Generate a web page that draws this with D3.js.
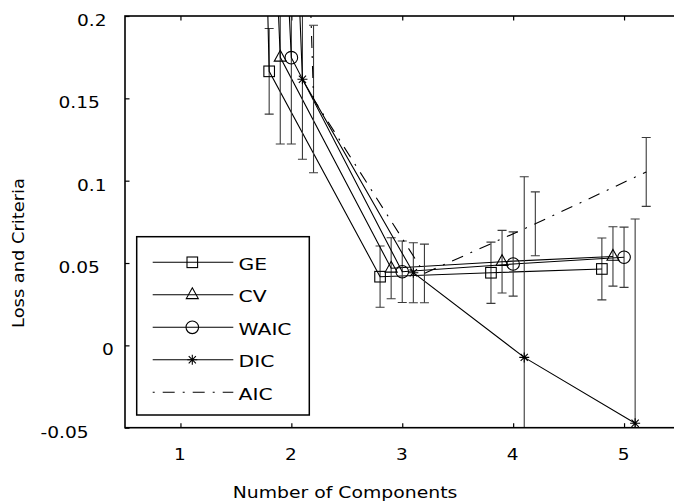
<!DOCTYPE html>
<html>
<head>
<meta charset="utf-8">
<script src="https://cdn.jsdelivr.net/npm/d3@7/dist/d3.min.js"></script>
<style>
  html, body { margin: 0; padding: 0; background: #fff; }
  svg { display: block; }
  text { font-family: "DejaVu Sans", sans-serif; fill: #000; }
</style>
</head>
<body>
<svg id="chart" width="674" height="503"></svg>
<script>
// Number of mixture components on the x axis
const components = [1, 2, 3, 4, 5];

// Generalisation error and information criteria (mean, error-bar half width)
const geValues   = [3.0, 0.1664, 0.0417, 0.0441, 0.0464];
const geErrors   = [0.2, 0.0260, 0.0186, 0.0186, 0.0188];
const cvValues   = [1.8, 0.1749, 0.0468, 0.0508, 0.0540];
const cvErrors   = [0.2, 0.0526, 0.0185, 0.0190, 0.0180];
const waicValues = [1.57, 0.1747, 0.0447, 0.0494, 0.0535];
const waicErrors = [0.2, 0.0524, 0.0187, 0.0195, 0.0183];
const dicValues  = [1.86, 0.1616, 0.0441, -0.0073, -0.0473];
const dicErrors  = [0.2, 0.0486, 0.0182, 0.1097, 0.1240];
const aicValues  = [2.3, 0.1496, 0.0437, 0.0738, 0.1053];
const aicErrors  = [0.2, 0.0448, 0.0178, 0.0194, 0.0209];

const seriesNames = ["GE", "CV", "WAIC", "DIC", "AIC"];
const xTickLabels = ["1", "2", "3", "4", "5"];
const yTickValues = [-0.05, 0, 0.05, 0.1, 0.15, 0.2];
const yTickLabels = ["-0.05", "0", "0.05", "0.1", "0.15", "0.2"];

const xTitle = "Number of Components";
const yTitle = "Loss and Criteria";

// ---- layout ----
const plotLeft = 125, plotTop = 16, plotBottom = 427.7, plotRight = 679.5;
const svg = d3.select("#chart");

const x = d3.scaleLinear().domain([0.5, 5.5]).range([plotLeft, plotRight]);
const y = d3.scaleLinear().domain([-0.05, 0.2]).range([plotBottom, plotTop]);

// widen glyphs horizontally (the terminal font is broad and short)
function widen(sel, factor) {
  sel.each(function () {
    const w = this.getComputedTextLength();
    d3.select(this).attr("textLength", w * factor).attr("lengthAdjust", "spacingAndGlyphs");
  });
}

// the terminal right-justifies tick labels from an estimated width:
// digits and minus are counted wide, the decimal point narrow
function estimatedWidth(label) {
  let w = 0;
  for (const ch of label) w += ch === "." ? 6.5 : (ch === "-" ? 18 : 18.5);
  return w;
}

// each series is nudged sideways so the error bars do not overlap
const shift = { GE: -0.2, CV: -0.1, WAIC: 0, DIC: 0.1, AIC: 0.2 };
const marker = { GE: "square", CV: "triangle", WAIC: "circle", DIC: "star", AIC: "none" };
const valuesOf = { GE: geValues, CV: cvValues, WAIC: waicValues, DIC: dicValues, AIC: aicValues };
const errorsOf = { GE: geErrors, CV: cvErrors, WAIC: waicErrors, DIC: dicErrors, AIC: aicErrors };

const series = seriesNames.map(name => ({
  name,
  points: components.map((c, i) => ({
    c: c + shift[name],
    v: valuesOf[name][i],
    e: errorsOf[name][i]
  }))
}));

svg.append("defs").append("clipPath").attr("id", "plotClip")
  .append("rect")
  .attr("x", plotLeft).attr("y", plotTop)
  .attr("width", plotRight - plotLeft).attr("height", plotBottom - plotTop);

// ---- axes (ticks point inward, mirrored on top) ----
const yAxis = d3.axisLeft(y)
  .tickValues(yTickValues)
  .tickFormat((d, i) => yTickLabels[i])
  .tickSizeInner(-4.5).tickSizeOuter(0);
const gy = svg.append("g").attr("transform", `translate(${plotLeft},0)`).call(yAxis);
gy.select(".domain").remove();
gy.selectAll(".tick line").attr("stroke", "#000").attr("stroke-width", 1.2);
gy.selectAll(".tick text")
  .attr("font-family", "DejaVu Sans, sans-serif").attr("font-size", 16)
  .attr("text-anchor", "start")
  .attr("x", (d, i) => -4.5 - estimatedWidth(yTickLabels[i]))
  .attr("y", 4.5).attr("fill", "#000")
  .call(widen, 1.16);

const xAxis = d3.axisBottom(x)
  .tickValues(components)
  .tickFormat((d, i) => xTickLabels[i])
  .tickSizeInner(-4.5).tickSizeOuter(0).tickPadding(21);
const gx = svg.append("g").attr("transform", `translate(0,${plotBottom})`).call(xAxis);
gx.select(".domain").remove();
gx.selectAll(".tick line").attr("stroke", "#000").attr("stroke-width", 1.2);
gx.selectAll(".tick text")
  .attr("font-family", "DejaVu Sans, sans-serif").attr("font-size", 16.5).attr("fill", "#000")
  .attr("x", -1)
  .call(widen, 1.12);

const xTop = d3.axisTop(x).tickValues(components).tickFormat("")
  .tickSizeInner(-4.5).tickSizeOuter(0);
const gt = svg.append("g").attr("transform", `translate(0,${plotTop})`).call(xTop);
gt.select(".domain").remove();
gt.selectAll(".tick line").attr("stroke", "#000").attr("stroke-width", 1.2);

// ---- data ----
const plot = svg.append("g").attr("clip-path", "url(#plotClip)");

const line = d3.line().x(d => x(d.c)).y(d => y(d.v));
const capHalf = 4.5;

function drawMarker(g, type, cx, cy) {
  const st = sel => sel.attr("fill", "none").attr("stroke", "#000").attr("stroke-width", 1.1);
  if (type === "square") {
    st(g.append("rect").attr("x", cx - 5.3).attr("y", cy - 5.3).attr("width", 10.6).attr("height", 10.6));
  } else if (type === "triangle") {
    st(g.append("path").attr("d", `M${cx},${cy - 7} L${cx + 6},${cy + 3.8} L${cx - 6},${cy + 3.8} Z`));
  } else if (type === "circle") {
    st(g.append("circle").attr("cx", cx).attr("cy", cy).attr("r", 6.3));
  } else if (type === "star") {
    const r = 5, d = 3.6;
    st(g.append("path").attr("d",
      `M${cx - r},${cy} L${cx + r},${cy} M${cx},${cy - r} L${cx},${cy + r}` +
      `M${cx - d},${cy - d} L${cx + d},${cy + d} M${cx - d},${cy + d} L${cx + d},${cy - d}`));
  }
}

series.forEach(s => {
  const g = plot.append("g").attr("class", "series-" + s.name);

  // error bars
  s.points.forEach(p => {
    const y0 = y(p.v - p.e), y1 = y(p.v + p.e), cx = x(p.c);
    g.append("line").attr("x1", cx).attr("x2", cx).attr("y1", y0).attr("y2", y1)
      .attr("stroke", "#3a3a3a").attr("stroke-width", 1.1);
    [y0, y1].forEach(yy => g.append("line")
      .attr("x1", cx - capHalf).attr("x2", cx + capHalf).attr("y1", yy).attr("y2", yy)
      .attr("stroke", "#3a3a3a").attr("stroke-width", 1.1));
  });

  // connecting line
  g.append("path").datum(s.points).attr("d", line)
    .attr("fill", "none").attr("stroke", "#000").attr("stroke-width", 1.1)
    .attr("stroke-dasharray", s.name === "AIC" ? "12,8,2,8" : null);

  // point markers
  s.points.forEach(p => drawMarker(g, marker[s.name], x(p.c), y(p.v)));
});

// ---- frame ----
svg.append("rect")
  .attr("x", plotLeft).attr("y", plotTop)
  .attr("width", plotRight - plotLeft).attr("height", plotBottom - plotTop)
  .attr("fill", "none").attr("stroke", "#000").attr("stroke-width", 1.6);

// ---- legend ----
const legend = svg.append("g");
legend.append("rect")
  .attr("x", 136.7).attr("y", 236.7).attr("width", 172.6).attr("height", 178.3)
  .attr("fill", "#fff").attr("stroke", "#000").attr("stroke-width", 1.5);
const rowY = d3.scalePoint().domain(seriesNames).range([262.3, 392.3]);
seriesNames.forEach(name => {
  const ly = rowY(name);
  legend.append("line").attr("x1", 152.7).attr("x2", 233.3).attr("y1", ly).attr("y2", ly)
    .attr("stroke", "#000").attr("stroke-width", 1.1)
    .attr("stroke-dasharray", name === "AIC" ? "2,8,12,8" : null);
  drawMarker(legend, marker[name], 192.3, ly);
  legend.append("text").attr("x", 238.5).attr("y", ly).attr("dy", "0.45em")
    .attr("font-size", 16).text(name)
    .call(widen, 1.27);
});

// ---- titles ----
svg.append("text").attr("x", 345).attr("y", 498).attr("text-anchor", "middle")
  .attr("font-size", 16.5).text(xTitle)
  .call(widen, 1.14);
svg.append("text").attr("transform", "translate(24,253) rotate(-90)")
  .attr("text-anchor", "middle").attr("font-size", 16.5).text(yTitle)
  .call(widen, 1.08);
</script>
</body>
</html>
